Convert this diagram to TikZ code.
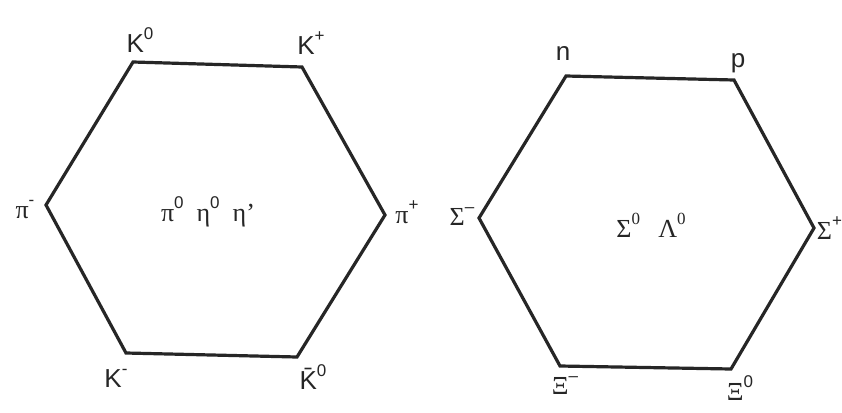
\documentclass[tikz,border=0pt]{standalone}
\usepackage{fontspec}
\setmainfont{Liberation Sans}
\newfontfamily\grk{Liberation Serif}
\newcommand{\up}[1]{\raisebox{0.5em}{\fontsize{17}{17}\selectfont #1}}
\begin{document}
\begin{tikzpicture}[x=1pt,y=-1pt,
  lbl/.style={font=\fontsize{26}{30}\selectfont, inner sep=0pt, text=black!85},
  hexline/.style={line width=3.2pt, draw=black!85, line join=miter}]
\useasboundingbox (0,0) rectangle (842,412);
\fill[white] (0,0) rectangle (842,412);
% left hexagon (mesons)
\coordinate (a1) at (133,62);
\coordinate (a2) at (302,67);
\coordinate (a3) at (385,215);
\coordinate (a4) at (297,357);
\coordinate (a5) at (126,353);
\coordinate (a6) at (46,205);
\draw[hexline] (a1) -- (a2) -- (a3) -- (a4) -- (a5) -- (a6) -- cycle;
% right hexagon (baryons)
\coordinate (b1) at (566,76);
\coordinate (b2) at (734,80);
\coordinate (b3) at (814,228);
\coordinate (b4) at (731,369);
\coordinate (b5) at (560,366);
\coordinate (b6) at (479,218);
\draw[hexline] (b1) -- (b2) -- (b3) -- (b4) -- (b5) -- (b6) -- cycle;
% meson labels
\node[lbl] (k0) at (140,40) {K\up{0}};
\node[lbl] (kp) at (311,43) {K\up{+}};
\node[lbl] (pim) at (25,210) {{\grk π}\up{-}};
\node[lbl] (ctr1) at (208,212) {{\grk π}\up{0}\hspace{0.5em}{\grk η}\up{0}\hspace{0.5em}{\grk η’}};
\node[lbl] (pip) at (407,212) {{\grk π}\up{+}};
\node[lbl] (km) at (116,378) {K\up{-}};
\node[lbl] (k0b) at (313,377) {K̄\up{0}};
% baryon labels
\node[lbl] (n) at (563,54) {n};
\node[lbl] (p) at (738,63) {p};
\node[lbl] (sm) at (462,217) {{\grk Σ}\up{–}};
\node[lbl] (ctr2) at (651,225) {{\grk Σ}\up{\grk 0}\hspace{0.7em}{\grk Λ}\up{\grk 0}};
\node[lbl] (sp) at (829.5,228) {{\grk Σ}\up{+}};
\node[lbl] (xm) at (565,386) {{\grk Ξ}\up{–}};
\node[lbl] (x0) at (740,388) {{\grk Ξ}\up{0}};
\end{tikzpicture}
\end{document}
